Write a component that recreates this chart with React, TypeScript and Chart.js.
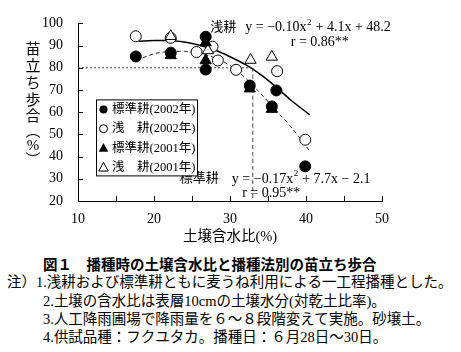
import React, { useEffect, useRef } from 'react';
import { Chart, registerables } from 'chart.js';

Chart.register(...registerables);

// ---------- data ----------
const xMin = 10;
const xMax = 50;
const yMin = 20;
const yMax = 100;

// ● 標準耕(2002年)
const std2002X = [17.6, 22.2, 26.8, 26.8, 32.6, 35.5, 36.1, 39.9];
const std2002Y = [85.1, 86.8, 94.0, 79.2, 72.0, 62.6, 69.8, 35.6];
// ○ 浅耕(2002年)
const sh2002X = [17.6, 22.2, 25.6, 27.7, 28.4, 30.8, 36.2, 39.9];
const sh2002Y = [94.2, 93.5, 87.1, 89.5, 83.3, 79.1, 78.5, 47.6];
// ▲ 標準耕(2001年)
const std2001X = [22.2, 26.8, 26.8, 32.6, 35.5];
const std2001Y = [85.6, 91.4, 83.3, 70.6, 61.4];
// △ 浅耕(2001年)
const sh2001X = [22.2, 27.1, 32.7, 35.5];
const sh2001Y = [94.2, 87.8, 83.5, 84.9];

// fitted curves
const shallowCurveX = [18, 20, 22, 24, 26, 28, 30, 32, 34, 36, 38, 40.5];
const shallowCurveY = [92.0, 92.3, 92.3, 91.6, 90.2, 88.0, 85.0, 81.5, 77.0, 71.5, 65.5, 58.8];
const stdCurveX = [18.5, 20, 22, 24, 26, 28, 30, 32, 34, 36, 38, 40.5];
const stdCurveY = [84.5, 86.3, 87.3, 87.4, 86.5, 84.5, 81.0, 75.5, 68.5, 61.0, 53.5, 42.5];

// reference threshold lines
const refY = 80;
const refX = 33;

const legendLabels = ['標準耕(2002年)', '浅　耕(2002年)', '標準耕(2001年)', '浅　耕(2001年)'];
const yTitleChars = ['苗', '立', 'ち', '歩', '合', '︵', '%', '︶'];

const shallowEq = { label: '浅耕', a: '−0.10', b: '4.1', c: '+ 48.2', r: 'r = 0.86**' };
const stdEq = { label: '標準耕', a: '−0.17', b: '7.7', c: '− 2.1', r: 'r = 0.95**' };

const noteLines = [
  '注）1.浅耕および標準耕ともに麦うね利用による一工程播種とした。',
  '2.土壌の含水比は表層10cmの土壌水分(対乾土比率)。',
  '3.人工降雨圃場で降雨量を６～８段階変えて実施。砂壌土。',
  '4.供試品種：フクユタカ。播種日：６月28日～30日。',
];
const figTitle = '図１　播種時の土壌含水比と播種法別の苗立ち歩合';

const FAMILY = '"Liberation Serif", "Noto Sans CJK JP", serif';

const pts = (xs: number[], ys: number[]) => xs.map((x, i) => ({ x, y: ys[i] }));

const W = 461;
const CH = 250;

const drawMarker = (ctx: CanvasRenderingContext2D, kind: string, x: number, y: number, r: number) => {
  ctx.save();
  ctx.lineWidth = 1;
  ctx.strokeStyle = '#000';
  ctx.beginPath();
  if (kind === 'circle' || kind === 'ocircle') {
    ctx.arc(x, y, r, 0, Math.PI * 2);
  } else {
    ctx.moveTo(x, y - r);
    ctx.lineTo(x + r * 0.95, y + r * 0.75);
    ctx.lineTo(x - r * 0.95, y + r * 0.75);
    ctx.closePath();
  }
  if (kind === 'circle' || kind === 'tri') {
    ctx.fillStyle = '#000';
    ctx.fill();
  } else {
    ctx.fillStyle = '#fff';
    ctx.fill();
    ctx.stroke();
  }
  ctx.restore();
};

const drawEquation = (ctx: CanvasRenderingContext2D, x: number, y: number, a: string, b: string, c: string) => {
  ctx.font = `14px ${FAMILY}`;
  let cx = x;
  const p1 = `y = ${a}x`;
  ctx.fillText(p1, cx, y);
  cx += ctx.measureText(p1).width;
  ctx.font = `9px ${FAMILY}`;
  ctx.fillText('2', cx + 0.5, y - 5);
  cx += ctx.measureText('2').width + 1;
  ctx.font = `14px ${FAMILY}`;
  ctx.fillText(` + ${b}x ${c}`, cx, y);
};

const overlayPlugin = {
  id: 'overlay',
  afterDraw(chart: any) {
    const { ctx, chartArea: area, scales } = chart;
    const xs = scales.x;
    const ys = scales.y;
    ctx.save();
    // inward tick marks
    ctx.strokeStyle = '#000';
    ctx.lineWidth = 1;
    ctx.beginPath();
    xs.ticks.forEach((t: any) => {
      const px = Math.round(xs.getPixelForValue(t.value)) + 0.5;
      ctx.moveTo(px, area.bottom);
      ctx.lineTo(px, area.bottom - 5);
    });
    ys.ticks.forEach((t: any) => {
      const py = Math.round(ys.getPixelForValue(t.value)) + 0.5;
      ctx.moveTo(area.left, py);
      ctx.lineTo(area.left + 5, py);
    });
    ctx.stroke();

    // vertical y-axis title
    ctx.fillStyle = '#000';
    ctx.font = `15px ${FAMILY}`;
    ctx.textAlign = 'center';
    ctx.textBaseline = 'middle';
    const ty = [50, 67, 84, 101, 117, 132, 146, 161];
    yTitleChars.forEach((ch, i) => ctx.fillText(ch, 33, ty[i]));

    // equations
    ctx.textAlign = 'left';
    ctx.textBaseline = 'middle';
    const sx = xs.getPixelForValue(27.4);
    const sy = ys.getPixelForValue(98.3);
    ctx.font = `13px ${FAMILY}`;
    ctx.fillText(shallowEq.label, sx, sy);
    drawEquation(ctx, sx + 35, sy, shallowEq.a, shallowEq.b, shallowEq.c);
    ctx.font = `14px ${FAMILY}`;
    ctx.fillText(shallowEq.r, xs.getPixelForValue(38.0), ys.getPixelForValue(91.6));

    const tx = xs.getPixelForValue(23.4);
    const tyy = ys.getPixelForValue(29.9);
    ctx.font = `13px ${FAMILY}`;
    ctx.fillText(stdEq.label, tx, tyy);
    drawEquation(ctx, tx + 52, tyy, stdEq.a, stdEq.b, stdEq.c);
    ctx.font = `14px ${FAMILY}`;
    ctx.fillText(stdEq.r, xs.getPixelForValue(31.6), ys.getPixelForValue(23.3));

    // legend box
    const lx = area.left + 18;
    const ly = area.top + 76;
    ctx.fillStyle = '#fff';
    ctx.fillRect(lx, ly, 101, 76);
    ctx.strokeStyle = '#000';
    ctx.lineWidth = 1;
    ctx.strokeRect(lx + 0.5, ly + 0.5, 101, 76);
    const kinds = ['circle', 'ocircle', 'tri', 'otri'];
    ctx.font = `12.5px ${FAMILY}`;
    ctx.fillStyle = '#000';
    legendLabels.forEach((lab, i) => {
      const yy = ly + 10 + i * 19.3;
      drawMarker(ctx, kinds[i], lx + 7.5, yy, i < 2 ? 4 : 5);
      ctx.fillStyle = '#000';
      ctx.textBaseline = 'middle';
      ctx.fillText(lab, lx + 16, yy + 0.5);
    });
    ctx.restore();
  },
};

export default function App() {
  const ref = useRef<HTMLCanvasElement | null>(null);

  useEffect(() => {
    if (!ref.current) return;
    const font = { family: FAMILY, size: 14 };
    const marker = (label: string, xs: number[], ys: number[], style: string, filled: boolean, r: number) => ({
      label,
      data: pts(xs, ys),
      pointStyle: style,
      pointRadius: r,
      pointBackgroundColor: filled ? '#000' : '#fff',
      pointBorderColor: '#000',
      pointBorderWidth: 1,
      showLine: false,
      order: 0,
    });
    const line = (label: string, data: any[], width: number, dash: number[], color: string) => ({
      label,
      data,
      showLine: true,
      borderColor: color,
      borderWidth: width,
      borderDash: dash,
      pointRadius: 0,
      tension: 0.4,
      cubicInterpolationMode: 'monotone',
      fill: false,
      order: 5,
    });
    const chart = new Chart(ref.current, {
      type: 'scatter',
      data: {
        datasets: [
          marker(legendLabels[2], std2001X, std2001Y, 'triangle', true, 6.5),
          marker(legendLabels[0], std2002X, std2002Y, 'circle', true, 5.5),
          marker(legendLabels[3], sh2001X, sh2001Y, 'triangle', false, 6.5),
          marker(legendLabels[1], sh2002X, sh2002Y, 'circle', false, 5.5),
          line('浅耕', pts(shallowCurveX, shallowCurveY), 1.5, [], '#000'),
          line('標準耕', pts(stdCurveX, stdCurveY), 1, [4, 3], '#222'),
          line('ref80', [{ x: xMin, y: refY }, { x: refX, y: refY }], 1, [2, 2], '#444'),
          line('refX', [{ x: refX, y: refY }, { x: refX, y: yMin }], 1, [4, 3], '#444'),
        ] as any,
      },
      options: {
        responsive: false,
        animation: false,
        layout: { padding: { top: 8, right: 79, left: 0, bottom: 0 } },
        plugins: { legend: { display: false }, tooltip: { enabled: false } },
        scales: {
          x: {
            type: 'linear',
            min: xMin,
            max: xMax,
            grid: { display: false, drawTicks: false },
            border: { display: true, color: '#000', width: 1 },
            ticks: {
              stepSize: 5,
              autoSkip: false,
              maxRotation: 0,
              color: '#000',
              font,
              padding: 10,
              callback: (v: any) => (Number(v) % 10 === 0 ? String(v) : ''),
            },
            title: { display: true, text: '土壌含水比(%)', color: '#000', font: { family: FAMILY, size: 14.5 }, padding: { top: 0, bottom: 4 } },
            afterFit: (s: any) => {
              s.height = CH - 201;
            },
          },
          y: {
            type: 'linear',
            min: yMin,
            max: yMax,
            grid: { display: false, drawTicks: false },
            border: { display: true, color: '#000', width: 1 },
            ticks: { stepSize: 10, color: '#000', font, padding: 15 },
            afterFit: (s: any) => {
              s.width = 78;
            },
          },
        },
      } as any,
      plugins: [overlayPlugin],
    });
    return () => chart.destroy();
  }, []);

  const noteStyle = (left: number, top: number): React.CSSProperties => ({
    position: 'absolute',
    left,
    top,
    fontSize: '14.5px',
    lineHeight: '18px',
    whiteSpace: 'nowrap',
    fontFamily: FAMILY,
    color: '#000',
  });

  return (
    <div style={{ position: 'absolute', left: 0, top: 0, width: W, height: 352, background: '#fff', overflow: 'hidden' }}>
      <canvas ref={ref} width={W} height={CH} style={{ position: 'absolute', left: 0, top: 0, width: W, height: CH }} />
      <div style={{ ...noteStyle(43, 256), fontWeight: 'bold' }}>{figTitle}</div>
      <div style={noteStyle(7, 273)}>{noteLines[0]}</div>
      <div style={noteStyle(43, 292)}>{noteLines[1]}</div>
      <div style={noteStyle(43, 310)}>{noteLines[2]}</div>
      <div style={noteStyle(43, 328)}>{noteLines[3]}</div>
    </div>
  );
}
